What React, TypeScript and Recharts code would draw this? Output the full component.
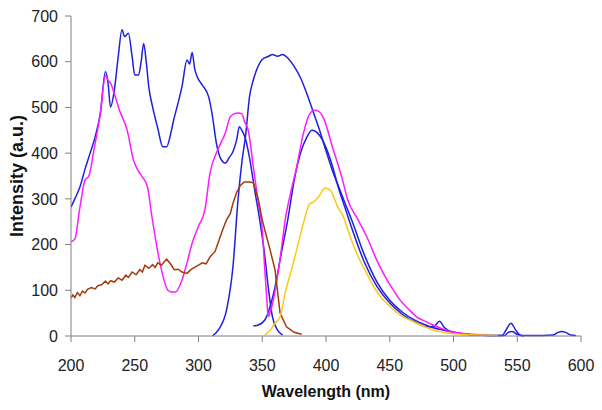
import { Line, LineChart, XAxis, YAxis, Label } from 'recharts'

// wavelength (nm) / intensity (a.u.) pairs
const blueExcNm = [200, 203, 207, 211, 215, 219, 223, 227, 229, 231, 234, 237, 240, 242, 245, 248, 250, 253, 255, 257, 259, 261, 264, 268, 272, 275, 278, 280, 284, 287, 291, 293, 295, 297, 299, 303, 308, 311, 314, 318, 321, 324, 327, 330, 332, 334, 337, 340, 344, 348, 352, 355, 358, 362, 366]
const blueExcI = [282, 300, 326, 365, 400, 436, 487, 578, 555, 501, 538, 610, 670, 655, 662, 610, 571, 571, 600, 640, 600, 545, 501, 455, 414, 414, 440, 466, 510, 545, 604, 595, 620, 585, 567, 549, 523, 480, 422, 385, 378, 390, 403, 430, 458, 450, 430, 390, 320, 254, 175, 100, 42, 13, 2]

const blueBroadNm = [311, 316, 322, 327, 331, 334, 337, 340, 343, 346, 350, 355, 358, 362, 366, 370, 375, 380, 385, 390, 395, 400, 405, 410, 415, 420, 430, 440, 450, 460, 470, 480, 490, 500, 510, 520, 530, 540, 543, 546, 549, 555]
const blueBroadI = [0, 15, 57, 151, 298, 380, 440, 523, 560, 585, 605, 612, 616, 612, 616, 608, 590, 565, 530, 490, 450, 405, 362, 326, 290, 255, 178, 118, 78, 52, 34, 22, 14, 8, 4, 2, 1, 1, 8, 10, 5, 0]

const blueEmNm = [343, 347, 352, 356, 360, 365, 370, 375, 380, 385, 389, 393, 397, 400, 405, 410, 415, 420, 430, 440, 450, 460, 470, 480, 485, 489, 493, 500, 510, 520, 530, 538, 541, 545, 549, 553, 560, 570, 578, 582, 585, 588, 592, 596]
const blueEmI = [22, 24, 35, 63, 107, 182, 254, 340, 400, 435, 450, 445, 430, 412, 372, 322, 280, 238, 162, 108, 72, 47, 30, 20, 22, 32, 18, 8, 4, 2, 1, 1, 12, 28, 12, 1, 1, 1, 2, 8, 10, 8, 2, 1]

const magentaExcNm = [200, 203, 207, 211, 214, 218, 223, 227, 229, 231, 234, 238, 244, 249, 253, 256, 260, 263, 266, 271, 276, 279, 282, 287, 291, 295, 300, 305, 309, 315, 321, 325, 328, 331, 334, 336, 339, 343, 347, 350, 352, 354.5]
const magentaExcI = [206, 212, 282, 341, 350, 407, 487, 570, 560, 553, 530, 494, 451, 385, 360, 348, 326, 270, 217, 144, 100, 96, 96, 122, 160, 203, 240, 276, 356, 407, 444, 480, 486, 488, 486, 470, 450, 370, 290, 232, 145, 42]

const magentaEmNm = [355, 358, 361.5, 365, 368, 372, 377, 382, 387, 391, 394, 398, 405, 413, 417, 425, 432, 440, 445, 452, 458, 465, 471, 478, 484, 490, 497, 505, 515, 525]
const magentaEmI = [42, 70, 123, 190, 254, 310, 370, 440, 485, 494, 492, 477, 414, 341, 298, 255, 217, 165, 137, 104, 79, 58, 42, 32, 24, 17, 10, 6, 4, 2]

const brownNm = [200, 201.5, 203, 205, 207, 209, 211, 213, 216, 219, 221, 224, 227, 229, 231, 234, 237, 240, 243, 245, 248, 251, 254, 256, 258, 261, 264, 266, 268, 271, 273, 275, 278, 281, 284, 287, 291, 294, 297, 300, 303, 306, 309, 313, 317, 320, 322, 325, 327, 330, 333, 336, 340, 343, 347, 350, 352, 356, 360, 364, 369, 375, 381]
const brownI = [83, 90, 84, 95, 88, 98, 94, 102, 106, 103, 110, 112, 120, 114, 121, 118, 127, 122, 133, 128, 140, 134, 145, 140, 155, 148, 156, 150, 160, 155, 162, 168, 158, 145, 146, 140, 137, 145, 150, 155, 160, 158, 173, 185, 217, 240, 254, 268, 290, 315, 330, 337, 337, 335, 298, 254, 232, 190, 145, 50, 20, 8, 4]

const yellowNm = [352, 356, 360, 364, 368, 373, 378, 383, 387, 390, 393, 396, 399, 403, 406, 409, 413, 419, 425, 432, 438, 445, 452, 458, 465, 471, 478, 484, 490, 497, 505, 521, 535]
const yellowI = [2, 12, 28, 42, 95, 145, 200, 254, 288, 293, 300, 312, 324, 320, 305, 283, 265, 217, 175, 137, 105, 79, 60, 46, 36, 28, 20, 13, 9, 6, 4, 2, 1]

const xTicks = [200, 250, 300, 350, 400, 450, 500, 550, 600]
const yTicks = [0, 100, 200, 300, 400, 500, 600, 700]

const pts = (nm: number[], vals: number[]) => nm.map((x, i) => ({ x, y: vals[i] }))

const series = [
  { name: 'blueExc', data: pts(blueExcNm, blueExcI), color: '#1f1fdf', curve: 'monotone' },
  { name: 'blueBroad', data: pts(blueBroadNm, blueBroadI), color: '#1f1fdf', curve: 'monotone' },
  { name: 'blueEm', data: pts(blueEmNm, blueEmI), color: '#1f1fdf', curve: 'monotone' },
  { name: 'magentaExc', data: pts(magentaExcNm, magentaExcI), color: '#ff1aff', curve: 'monotone' },
  { name: 'magentaEm', data: pts(magentaEmNm, magentaEmI), color: '#ff1aff', curve: 'monotone' },
  { name: 'brown', data: pts(brownNm, brownI), color: '#a23c0c', curve: 'linear' },
  { name: 'yellow', data: pts(yellowNm, yellowI), color: '#fcc818', curve: 'monotone' },
]

const font = 'Liberation Sans, Arial, sans-serif'
const tickStyle = { fontSize: 16, fill: '#222', fontFamily: font }

export default function App() {
  return (
    <div style={{ position: 'absolute', left: 0, top: 0, width: 602, height: 410, background: '#fff' }}>
      <LineChart width={602} height={410} margin={{ top: 16, right: 21, left: 0, bottom: 10 }}>
        <XAxis
          dataKey="x"
          type="number"
          domain={[200, 600]}
          ticks={xTicks}
          allowDataOverflow
          tick={tickStyle}
          tickSize={6}
          tickMargin={18}
          stroke="#808080"
          height={64}
        >
          <Label
            value="Wavelength (nm)"
            position="insideBottom"
            offset={3}
            style={{ fontSize: 16, fontWeight: 'bold', fill: '#111', fontFamily: font }}
          />
        </XAxis>
        <YAxis
          type="number"
          domain={[0, 700]}
          ticks={yTicks}
          tick={tickStyle}
          tickSize={6}
          tickMargin={7}
          stroke="#808080"
          width={71}
        >
          <Label
            value="Intensity (a.u.)"
            angle={-90}
            position="insideLeft"
            offset={17}
            style={{ textAnchor: 'middle', fontSize: 18, fontWeight: 'bold', fill: '#111', fontFamily: font }}
          />
        </YAxis>
        {series.map((s) => (
          <Line
            key={s.name}
            data={s.data}
            dataKey="y"
            type={s.curve as 'monotone' | 'linear'}
            stroke={s.color}
            strokeWidth={1.5}
            dot={false}
            isAnimationActive={false}
          />
        ))}
      </LineChart>
    </div>
  )
}
